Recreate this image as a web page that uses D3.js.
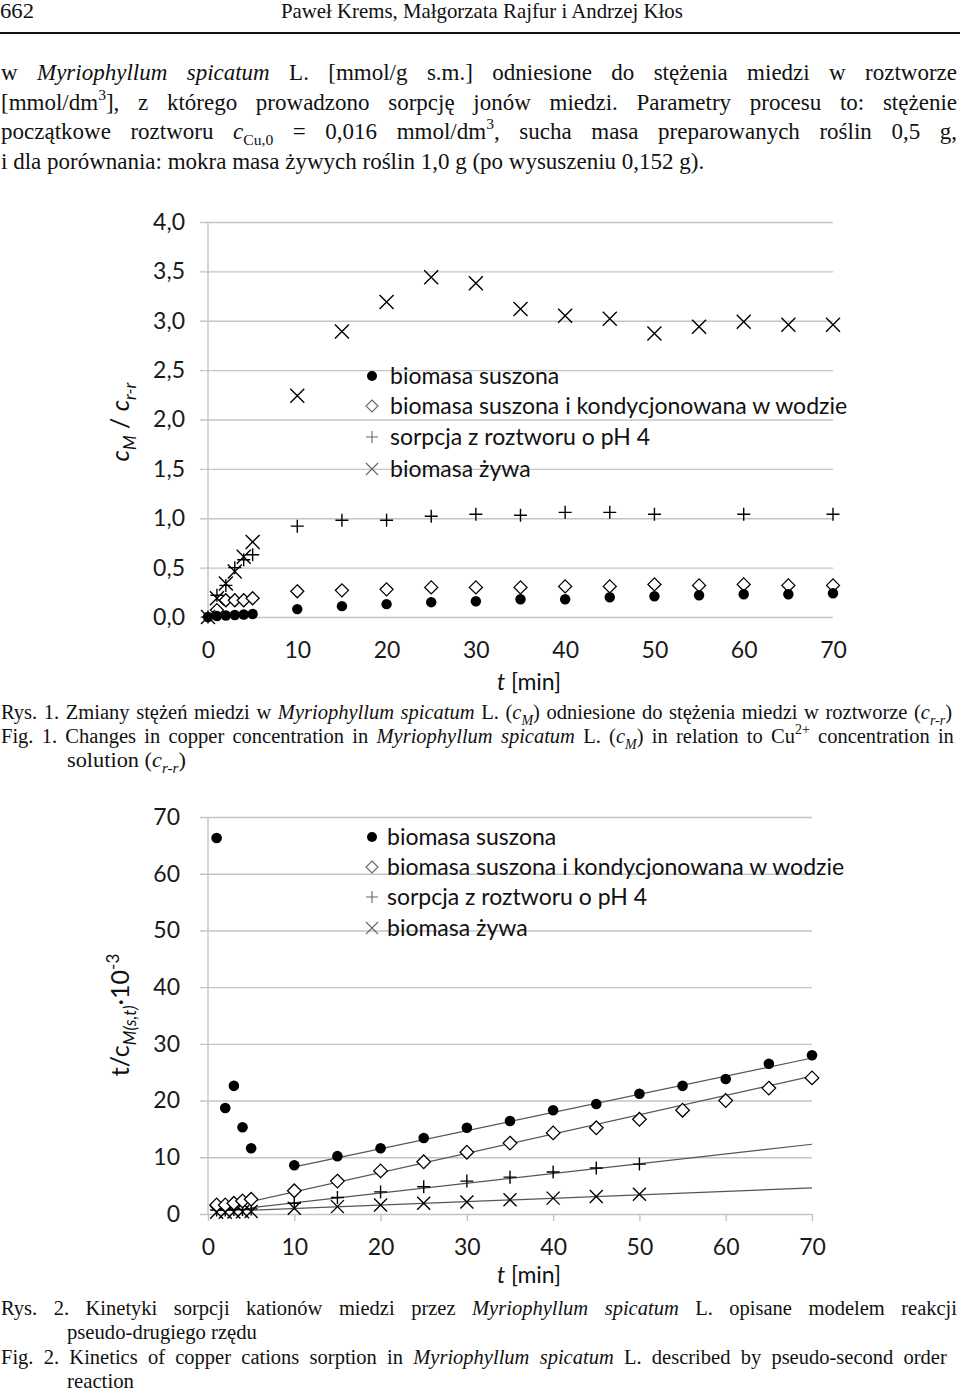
<!DOCTYPE html>
<html><head><meta charset="utf-8">
<script src="https://cdn.jsdelivr.net/npm/d3@7"></script>
<style>body{margin:0;background:#fff}svg{display:block}</style>
</head><body>
<script>
// ---------- DATA ----------
// Chart 1: c_M / c_r-r vs t [min]
const c1DotsT   = [0,1,2,3,4,5,10,15,20,25,30,35,40,45,50,55,60,65,70];
const c1Dots    = [0,0.01,0.015,0.02,0.025,0.03,0.08,0.11,0.13,0.15,0.16,0.18,0.18,0.20,0.21,0.22,0.23,0.23,0.24];
const c1DiamT   = [1,2,3,4,5,10,15,20,25,30,35,40,45,50,55,60,65,70];
const c1Diam    = [0.07,0.17,0.17,0.17,0.19,0.26,0.27,0.28,0.30,0.30,0.30,0.31,0.31,0.33,0.32,0.33,0.32,0.32];
const c1PlusT   = [0,1,2,3,4,5,10,15,20,25,30,35,40,45,50,60,70];
const c1Plus    = [0,0.22,0.32,0.50,0.58,0.63,0.92,0.98,0.98,1.02,1.04,1.03,1.06,1.06,1.04,1.04,1.04];
const c1CrossT  = [0,1,2,3,4,5,10,15,20,25,30,35,40,45,50,55,60,65,70];
const c1Cross   = [0,0.19,0.34,0.46,0.61,0.76,2.24,2.89,3.19,3.44,3.38,3.12,3.05,3.02,2.87,2.94,2.99,2.96,2.96];
const c1YTicks  = [0,0.5,1,1.5,2,2.5,3,3.5,4];
const c1XTicks  = [0,10,20,30,40,50,60,70];

// Chart 2: t/c_M(s,t)·10^-3 vs t [min]
const c2T       = [1,2,3,4,5,10,15,20,25,30,35,40,45,50,55,60,65,70];
const c2Dots    = [66.3,18.7,22.6,15.3,11.6,8.6,10.2,11.6,13.4,15.2,16.4,18.3,19.4,21.2,22.6,23.8,26.5,28.0];
const c2Diam    = [1.6,1.6,1.9,2.3,2.6,4.1,5.8,7.6,9.2,10.9,12.5,14.3,15.2,16.7,18.3,20.0,22.2,24.0];
const c2PCT     = [1,2,3,4,5,10,15,20,25,30,35,40,45,50];
const c2Plus    = [0.7,0.7,0.8,0.8,0.9,1.9,2.9,3.9,4.8,5.8,6.5,7.4,8.1,8.8];
const c2Cross   = [0.3,0.3,0.35,0.4,0.45,1.0,1.3,1.6,1.9,2.1,2.5,2.8,3.1,3.5];
// fitted pseudo-second-order lines: [series, tStart, vStart, tEnd, vEnd]
const c2Fits    = [["dot",10,8.3,70,27.5],["diamond",5,2.2,70,24.3],["plus",5,1.1,70,12.3],["cross",5,0.65,70,4.6]];
const c2YTicks  = [0,10,20,30,40,50,60,70];
const c2XTicks  = [0,10,20,30,40,50,60,70];

const legendLabels = ["biomasa suszona","biomasa suszona i kondycjonowana w wodzie","sorpcja z roztworu o pH 4","biomasa żywa"];
const legendKeys   = ["dot","diamond","plus","cross"];

// ---------- DRAWING ----------
const svg = d3.select("body").append("svg").attr("width",960).attr("height",1393);
svg.append("rect").attr("width",960).attr("height",1393).attr("fill","#fff");
const SERIF = "'Liberation Serif','Times New Roman',serif";
const SANS = "Lato,'Open Sans',sans-serif";

function textLine(g, parts, o){
  const size=o.size||20;
  const t=g.append("text").attr("x",o.x).attr("y",o.y).attr("font-family",o.family||SERIF)
    .attr("font-size",size).attr("fill","#111");
  if(o.anchor) t.attr("text-anchor",o.anchor);
  if(o.transform) t.attr("transform",o.transform);
  let shift=0, full="";
  parts.forEach(p=>{
    const s= typeof p==="string"?{t:p}:p;
    full+=s.t;
    const ts=t.append("tspan").text(s.t);
    if(s.i) ts.attr("font-style","italic");
    const target = s.sub? size*0.28 : s.sup? -size*0.42 : 0;
    if(target!==shift){ ts.attr("dy",target-shift); shift=target; }
    if(s.sub||s.sup) ts.attr("font-size",size*0.68);
  });
  const scaleTo=(target)=>{
    const w=t.node().getComputedTextLength();
    const s=(target-o.x)/w;
    t.attr("transform",`translate(${o.x},${o.y}) scale(${s},1) translate(${-o.x},${-o.y})`);
  };
  if(o.justifyTo!==undefined){
    const w=t.node().getComputedTextLength();
    const n=(full.match(/ /g)||[]).length;
    const extra=o.justifyTo-o.x-w;
    if(extra>0 && n>0) t.attr("word-spacing",extra/n);
    else scaleTo(o.justifyTo);
  } else if(o.fitTo!==undefined){
    scaleTo(o.fitTo);
  }
  return t;
}

function marker(g, type, x, y, sz, color, sw){
  color=color||"#000"; sw=sw||1.4;
  if(type==="dot"){ g.append("circle").attr("cx",x).attr("cy",y).attr("r",sz).attr("fill",color); }
  else if(type==="diamond"){
    g.append("path").attr("d",`M${x},${y-sz}L${x+sz},${y}L${x},${y+sz}L${x-sz},${y}Z`)
      .attr("fill","#fff").attr("stroke",color).attr("stroke-width",sw);
  } else if(type==="plus"){
    g.append("path").attr("d",`M${x-sz},${y}H${x+sz}M${x},${y-sz}V${y+sz}`).attr("stroke",color).attr("stroke-width",sw).attr("fill","none");
  } else if(type==="cross"){
    g.append("path").attr("d",`M${x-sz},${y-sz}L${x+sz},${y+sz}M${x-sz},${y+sz}L${x+sz},${y-sz}`).attr("stroke",color).attr("stroke-width",sw).attr("fill","none");
  }
}

const fmtComma = d=>d3.format(".1f")(d).replace(".",",");

// ---- header & paragraph ----
const doc=svg.append("g");
textLine(doc,["662"],{x:0,y:18,size:21,fitTo:34});
textLine(doc,["Paweł Krems, Małgorzata Rajfur i Andrzej Kłos"],{x:281,y:18,size:21,fitTo:683});
doc.append("line").attr("x1",0).attr("x2",960).attr("y1",33).attr("y2",33).attr("stroke","#111").attr("stroke-width",2);

const P=23;
textLine(doc,["w ",{t:"Myriophyllum spicatum",i:1}," L. [mmol/g s.m.] odniesione do stężenia miedzi w roztworze"],{x:1,y:80,size:P,justifyTo:957});
textLine(doc,["[mmol/dm",{t:"3",sup:1},"], z którego prowadzono sorpcję jonów miedzi. Parametry procesu to: stężenie"],{x:1,y:110,size:P,justifyTo:957});
textLine(doc,["początkowe roztworu ",{t:"c",i:1},{t:"Cu,0",sub:1}," = 0,016 mmol/dm",{t:"3",sup:1},", sucha masa preparowanych roślin 0,5 g,"],{x:1,y:139,size:P,justifyTo:957});
textLine(doc,["i dla porównania: mokra masa żywych roślin 1,0 g (po wysuszeniu 0,152 g)."],{x:1,y:169,size:P});

// captions
const C=20.5;
textLine(doc,["Rys. 1. Zmiany stężeń miedzi w ",{t:"Myriophyllum spicatum",i:1}," L. (",{t:"c",i:1},{t:"M",i:1,sub:1},") odniesione do stężenia miedzi w roztworze (",{t:"c",i:1},{t:"r-r",i:1,sub:1},")"],{x:1,y:719,size:C,justifyTo:952});
textLine(doc,["Fig. 1.  Changes in copper concentration in ",{t:"Myriophyllum spicatum",i:1}," L. (",{t:"c",i:1},{t:"M",i:1,sub:1},") in relation to Cu",{t:"2+",sup:1}," concentration in"],{x:1,y:743,size:C,justifyTo:957});
textLine(doc,["solution (",{t:"c",i:1},{t:"r-r",i:1,sub:1},")"],{x:67,y:767,size:C,fitTo:186});

textLine(doc,["Rys. 2. Kinetyki sorpcji kationów miedzi przez ",{t:"Myriophyllum spicatum",i:1}," L. opisane modelem reakcji"],{x:1,y:1315,size:C,justifyTo:957});
textLine(doc,["pseudo-drugiego rzędu"],{x:67,y:1339,size:C,fitTo:257});
textLine(doc,["Fig. 2.  Kinetics of copper cations sorption in  ",{t:"Myriophyllum spicatum",i:1}," L. described by pseudo-second order"],{x:1,y:1364,size:C,justifyTo:957});
textLine(doc,["reaction"],{x:67,y:1388,size:C,fitTo:134});

// ---- Chart builder ----
const F=23;
function chart(cfg){
  const g=svg.append("g");
  const x=d3.scaleLinear().domain([0,70]).range([208,cfg.xRight]);
  const y=d3.scaleLinear().domain(cfg.yDomain).range([cfg.yBottom,cfg.yTop]);
  const ya=g.append("g").attr("transform","translate(200,0)")
    .call(d3.axisLeft(y).tickValues(cfg.yTicks).tickSize(-(cfg.xRight-200)).tickPadding(cfg.yPad).tickFormat(cfg.yFmt));
  ya.select(".domain").remove();
  ya.selectAll(".tick line").attr("stroke","#c4c4c4").attr("stroke-width",1.4);
  ya.selectAll(".tick text").attr("font-family",SANS).attr("font-size",F).attr("fill","#1a1a1a");
  g.append("line").attr("x1",208).attr("x2",208).attr("y1",cfg.yTop).attr("y2",cfg.yBottom).attr("stroke","#c4c4c4").attr("stroke-width",1.4);
  const xa=g.append("g").attr("transform",`translate(0,${cfg.yBottom})`)
    .call(d3.axisBottom(x).tickValues(cfg.xTicks).tickSize(cfg.xTickSize).tickPadding(cfg.xPad).tickFormat(d3.format("d")));
  xa.select(".domain").remove();
  xa.selectAll(".tick line").attr("stroke","#c4c4c4").attr("stroke-width",1.4);
  xa.selectAll(".tick text").attr("font-family",SANS).attr("font-size",F).attr("fill","#1a1a1a");
  textLine(g,[{t:"t",i:1}," [min]"],{x:529,y:cfg.xTitleY,size:F,family:SANS,anchor:"middle"});
  textLine(g,cfg.yTitle,{x:0,y:0,size:cfg.yTitleSize||25,family:SANS,anchor:"middle",transform:`translate(${cfg.yTitleX},${cfg.yTitleY}) rotate(-90)`});
  return {g,x,y};
}

// ---- Chart 1 ----
const ch1=chart({xRight:833,yDomain:[0,4],yBottom:617,yTop:222,yTicks:c1YTicks,xTicks:c1XTicks,yPad:15,yFmt:fmtComma,
  xTickSize:0,xPad:25,xTitleY:690,
  yTitle:[{t:"c",i:1},{t:"M",i:1,sub:1},{t:" / "},{t:"c",i:1},{t:"r-r",i:1,sub:1}],yTitleX:129,yTitleY:422});
{
  const {g,x,y}=ch1;
  c1DiamT.forEach((t,i)=>marker(g,"diamond",x(t),y(c1Diam[i]),6.5,"#000",1.3));
  c1DotsT.forEach((t,i)=>marker(g,"dot",x(t),y(c1Dots[i]),5.2));
  c1PlusT.forEach((t,i)=>marker(g,"plus",x(t),y(c1Plus[i]),6.5,"#000",1.4));
  c1CrossT.forEach((t,i)=>marker(g,"cross",x(t),y(c1Cross[i]),7,"#000",1.4));
  const rows=[376,406,437,469];
  legendKeys.forEach((k,i)=>{
    marker(g,k,372,rows[i],k==="dot"?5:6,k==="dot"?"#000":"#666",1.1);
    textLine(g,[legendLabels[i]],{x:390,y:rows[i]+8,size:F,family:SANS});
  });
}

// ---- Chart 2 ----
const ch2=chart({xRight:812,yDomain:[0,70],yBottom:1214,yTop:817,yTicks:c2YTicks,xTicks:c2XTicks,yPad:20,yFmt:d3.format("d"),
  xTickSize:7,xPad:18,xTitleY:1283,
  yTitle:[{t:"t/c"},{t:"M(s,t)",i:1,sub:1},{t:"·10"},{t:"-3",sup:1}],yTitleX:129,yTitleY:1015});
{
  const {g,x,y}=ch2;
  g.selectAll("path.fit").data(c2Fits).join("path").attr("class","fit")
    .attr("d",d=>d3.line()([[x(d[1]),y(d[2])],[x(d[3]),y(d[4])]]))
    .attr("stroke","#555").attr("stroke-width",1.2).attr("fill","none");
  c2PCT.forEach((t,i)=>marker(g,"cross",x(t),y(c2Cross[i]),6.5,"#000",1.4));
  c2PCT.forEach((t,i)=>marker(g,"plus",x(t),y(c2Plus[i]),6.5,"#000",1.4));
  c2T.forEach((t,i)=>marker(g,"diamond",x(t),y(c2Diam[i]),6.8,"#000",1.3));
  c2T.forEach((t,i)=>marker(g,"dot",x(t),y(c2Dots[i]),5.3));
  const rows=[837,867,897,928];
  legendKeys.forEach((k,i)=>{
    marker(g,k,372,rows[i],k==="dot"?5:6,k==="dot"?"#000":"#666",1.1);
    textLine(g,[legendLabels[i]],{x:387,y:rows[i]+8,size:F,family:SANS});
  });
}
</script>
</body></html>
